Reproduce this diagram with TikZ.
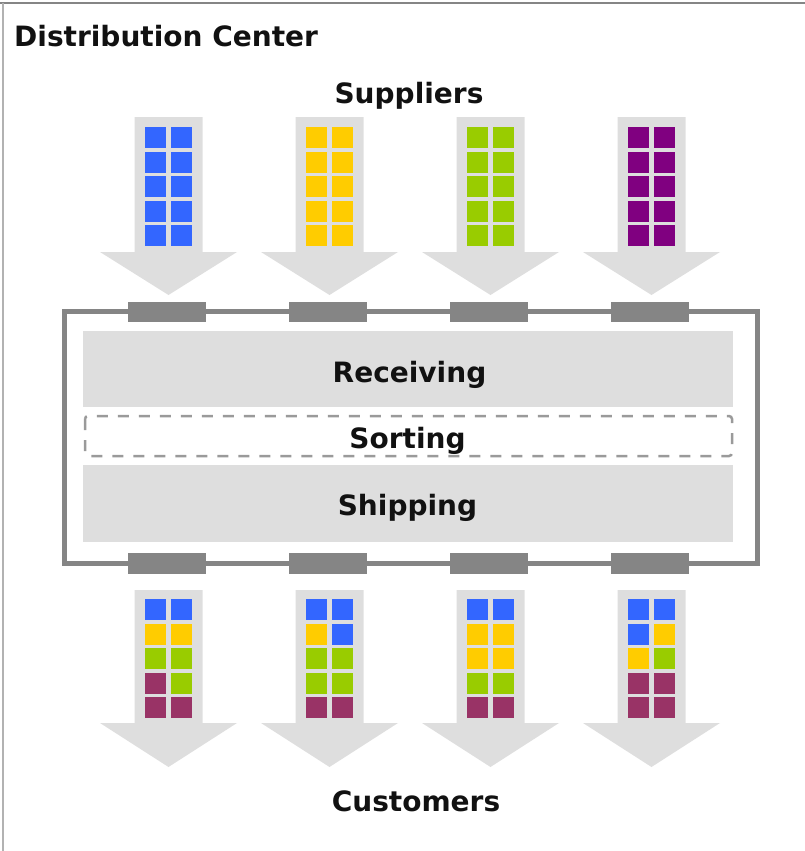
\documentclass[tikz,border=0pt]{standalone}
\usepackage{fontspec}
\setmainfont{DejaVu Sans}
\definecolor{cblue}{HTML}{3366FF}
\definecolor{cyellow}{HTML}{FFCC00}
\definecolor{cgreen}{HTML}{99CC00}
\definecolor{cpurple}{HTML}{800080}
\definecolor{cplum}{HTML}{993366}
\definecolor{arrowgray}{HTML}{DEDEDE}
\definecolor{boxgray}{HTML}{DEDEDE}
\definecolor{dockgray}{HTML}{858585}
\definecolor{framegray}{HTML}{858585}
\definecolor{dashgray}{HTML}{9A9A9A}
\definecolor{txt}{HTML}{111111}
\newcommand\flowarrow[4]{% cx, top, head start, tip
  \fill[arrowgray] (#1-34,#2) -- (#1+34,#2) -- (#1+34,#3) -- (#1+68.5,#3)
    -- (#1,#4) -- (#1-68.5,#3) -- (#1-34,#3) -- cycle;}
\newcommand\sqpair[5]{% cx, ytop, row, left colour, right colour
  \fill[#4] (#1-23.5,#2+24.5*#3) rectangle ++(21,21);
  \fill[#5] (#1+2.5,#2+24.5*#3) rectangle ++(21,21);}
\begin{document}
\begin{tikzpicture}[x=1pt,y=-1pt,
  lbl/.style={font=\fontsize{28}{34}\selectfont\bfseries, text=txt, inner sep=0pt, anchor=base},
  dock/.style={fill=dockgray},
  area/.style={fill=boxgray}]
\useasboundingbox (0,0) rectangle (805,851);
% outer frame (cut at right and bottom)
\draw[framegray, line width=2.5pt] (0,3) -- (805,3);
\draw[black!30, line width=2pt] (3,3) -- (3,851);
% title
\node[lbl, anchor=base west] (title) at (14,47) {Distribution Center};
\node[lbl] (sup) at (409,103) {Suppliers};
% supplier arrows
\foreach \cx/\c in {168.5/cblue, 329.5/cyellow, 490.5/cgreen, 651.5/cpurple} {
  \flowarrow{\cx}{117}{252}{295}
  \foreach \r in {0,...,4} {\sqpair{\cx}{127}{\r}{\c}{\c}}
}
% building
\draw[framegray, line width=5pt] (64.5,311.5) rectangle (757,563);
\foreach \cx in {167,328,489,650} {
  \fill[dock] (\cx-39,302) rectangle (\cx+39,322);
  \fill[dock] (\cx-39,553) rectangle (\cx+39,574);
}
\fill[area] (83,331) rectangle (733,407);
\fill[area] (83,465) rectangle (733,542);
\draw[dashgray, line width=2.5pt, rounded corners=3pt, dash pattern=on 11pt off 10pt] (85,416) rectangle (732,456);
\node[lbl] (rec) at (409.5,382) {Receiving};
\node[lbl] (sort) at (407.5,448) {Sorting};
\node[lbl] (ship) at (407.5,515) {Shipping};
% customer arrows
\foreach \cx in {168.5,329.5,490.5,651.5} {\flowarrow{\cx}{590}{723}{767}}
\sqpair{168.5}{599}{0}{cblue}{cblue}
\sqpair{168.5}{599}{1}{cyellow}{cyellow}
\sqpair{168.5}{599}{2}{cgreen}{cgreen}
\sqpair{168.5}{599}{3}{cplum}{cgreen}
\sqpair{168.5}{599}{4}{cplum}{cplum}
\sqpair{329.5}{599}{0}{cblue}{cblue}
\sqpair{329.5}{599}{1}{cyellow}{cblue}
\sqpair{329.5}{599}{2}{cgreen}{cgreen}
\sqpair{329.5}{599}{3}{cgreen}{cgreen}
\sqpair{329.5}{599}{4}{cplum}{cplum}
\sqpair{490.5}{599}{0}{cblue}{cblue}
\sqpair{490.5}{599}{1}{cyellow}{cyellow}
\sqpair{490.5}{599}{2}{cyellow}{cyellow}
\sqpair{490.5}{599}{3}{cgreen}{cgreen}
\sqpair{490.5}{599}{4}{cplum}{cplum}
\sqpair{651.5}{599}{0}{cblue}{cblue}
\sqpair{651.5}{599}{1}{cblue}{cyellow}
\sqpair{651.5}{599}{2}{cyellow}{cgreen}
\sqpair{651.5}{599}{3}{cplum}{cplum}
\sqpair{651.5}{599}{4}{cplum}{cplum}
\node[lbl] (cust) at (416,811) {Customers};
\end{tikzpicture}
\end{document}
